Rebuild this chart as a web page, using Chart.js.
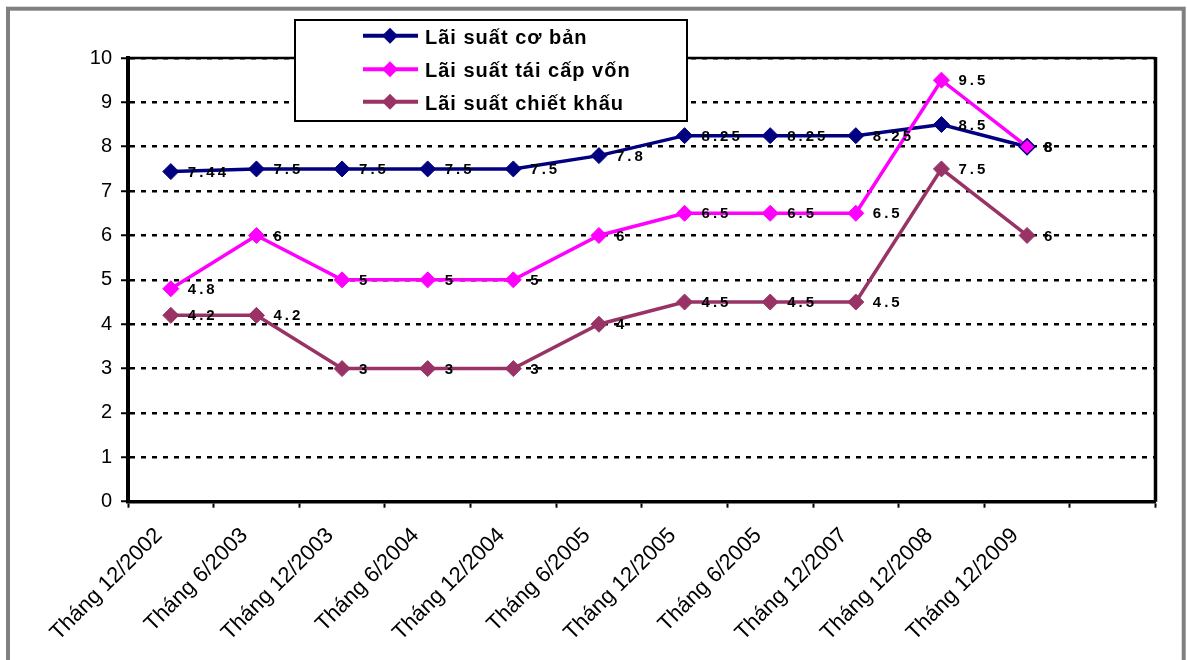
<!DOCTYPE html>
<html>
<head>
<meta charset="utf-8">
<title>Lãi suất</title>
<script src="https://cdn.jsdelivr.net/npm/chart.js@4.4.1/dist/chart.umd.min.js"></script>
<style>
  html, body { margin: 0; padding: 0; background: #fff; }
  #wrap { width: 1187px; height: 660px; position: relative; }
</style>
</head>
<body>
<div id="wrap"><canvas id="c" width="1187" height="660"></canvas></div>
<script>
// Kỳ điều chỉnh (the last slot is left empty, as on the axis)
const periods = [
  'Tháng 12/2002', 'Tháng 6/2003', 'Tháng 12/2003', 'Tháng 6/2004',
  'Tháng 12/2004', 'Tháng 6/2005', 'Tháng 12/2005', 'Tháng 6/2005',
  'Tháng 12/2007', 'Tháng 12/2008', 'Tháng 12/2009', ''
];
const seriesNames = ['Lãi suất cơ bản', 'Lãi suất tái cấp vốn', 'Lãi suất chiết khấu'];
const baseRate        = [7.44, 7.5, 7.5, 7.5, 7.5, 7.8, 8.25, 8.25, 8.25, 8.5, 8, null];
const refinancingRate = [4.8, 6, 5, 5, 5, 6, 6.5, 6.5, 6.5, 9.5, 8, null];
const discountRate    = [4.2, 4.2, 3, 3, 3, 4, 4.5, 4.5, 4.5, 7.5, 6, null];
const yMin = 0, yMax = 10, yStep = 1;

const NAVY = '#000080', MAGENTA = '#FF00FF', PLUM = '#993366';
const FONT = "'Liberation Sans', Arial, sans-serif";

// white page with a grey frame
const framePlugin = {
  id: 'frame',
  beforeDraw(chart) {
    const ctx = chart.ctx;
    ctx.save();
    ctx.fillStyle = '#fff';
    ctx.fillRect(0, 0, chart.width, chart.height);
    ctx.strokeStyle = '#808080';
    ctx.lineWidth = 4;
    ctx.strokeRect(8, 8.7, 1175.7, 700);
    ctx.restore();
  }
};

// top and right edges of the plot area
const plotBorderPlugin = {
  id: 'plotBorder',
  afterDatasetsDraw(chart) {
    const {ctx, chartArea: a} = chart;
    ctx.save();
    ctx.strokeStyle = '#000';
    ctx.lineWidth = 2.5;
    ctx.beginPath();
    ctx.moveTo(a.left, a.top);
    ctx.lineTo(a.right, a.top);
    ctx.stroke();
    ctx.lineWidth = 3.5;
    ctx.beginPath();
    ctx.moveTo(a.right, a.top - 1);
    ctx.lineTo(a.right, a.bottom);
    ctx.stroke();
    ctx.restore();
  }
};

// value written to the right of each marker
const valueLabelPlugin = {
  id: 'valueLabels',
  afterDatasetsDraw(chart) {
    const ctx = chart.ctx;
    ctx.save();
    ctx.font = 'bold 15px ' + FONT;
    ctx.letterSpacing = '3px';
    ctx.fillStyle = '#000';
    ctx.textAlign = 'left';
    ctx.textBaseline = 'middle';
    chart.data.datasets.forEach((ds, di) => {
      const meta = chart.getDatasetMeta(di);
      meta.data.forEach((pt, i) => {
        const v = ds.data[i];
        if (v === null || v === undefined) return;
        ctx.fillText(String(v), pt.x + 17, pt.y + 1);
      });
    });
    ctx.restore();
  }
};

// framed legend box with line + diamond samples
const legendBoxPlugin = {
  id: 'legendBox',
  afterDraw(chart) {
    const ctx = chart.ctx;
    const box = {x: 295, y: 20, w: 392, h: 101};
    ctx.save();
    ctx.fillStyle = '#fff';
    ctx.fillRect(box.x, box.y, box.w, box.h);
    ctx.strokeStyle = '#000';
    ctx.lineWidth = 2;
    ctx.strokeRect(box.x, box.y, box.w, box.h);
    const rows = [35.7, 69.3, 101.7];
    chart.data.datasets.forEach((ds, i) => {
      const y = rows[i];
      ctx.strokeStyle = ds.borderColor;
      ctx.lineWidth = 4;
      ctx.beginPath();
      ctx.moveTo(363, y);
      ctx.lineTo(418, y);
      ctx.stroke();
      const r = 8;
      ctx.fillStyle = ds.borderColor;
      ctx.beginPath();
      ctx.moveTo(390, y - r);
      ctx.lineTo(390 + r, y);
      ctx.lineTo(390, y + r);
      ctx.lineTo(390 - r, y);
      ctx.closePath();
      ctx.fill();
      ctx.fillStyle = '#000';
      ctx.font = 'bold 20px ' + FONT;
      ctx.letterSpacing = '1px';
      ctx.textAlign = 'left';
      ctx.textBaseline = 'alphabetic';
      ctx.fillText(ds.label, 425, y + 8);
    });
    ctx.restore();
  }
};

function lineSet(label, data, color, order) {
  return {
    label, data, order,
    borderColor: color,
    backgroundColor: color,
    borderWidth: 3.5,
    pointStyle: 'rectRot',
    pointRadius: 8,
    pointHoverRadius: 8,
    pointBackgroundColor: color,
    pointBorderColor: color,
    pointBorderWidth: 1,
    tension: 0,
    spanGaps: false
  };
}

const datasets = [
  lineSet(seriesNames[0], baseRate, NAVY, 3),
  lineSet(seriesNames[1], refinancingRate, MAGENTA, 2),
  lineSet(seriesNames[2], discountRate, PLUM, 1)
];
// the last refinancing marker sits on the base-rate marker and keeps its outline
datasets[1].pointBorderColor = ctx => ctx.dataIndex === refinancingRate.length - 2 ? NAVY : MAGENTA;
datasets[1].pointBorderWidth = ctx => ctx.dataIndex === refinancingRate.length - 2 ? 1.5 : 1;

new Chart(document.getElementById('c'), {
  type: 'line',
  data: { labels: periods, datasets },
  options: {
    responsive: false,
    animation: false,
    events: [],
    layout: { padding: { top: 58, right: 31.5, bottom: 0, left: 0 } },
    plugins: {
      legend: { display: false },
      tooltip: { enabled: false },
      title: { display: false }
    },
    scales: {
      x: {
        type: 'category',
        offset: true,
        grid: {
          display: true,
          offset: true,
          drawOnChartArea: false,
          drawTicks: true,
          tickLength: 6,
          tickWidth: 2,
          tickColor: '#000'
        },
        border: { display: true, color: '#000', width: 3.5 },
        ticks: {
          autoSkip: false,
          minRotation: 45,
          maxRotation: 45,
          padding: 15,
          labelOffset: -12,
          color: '#000',
          font: { family: FONT, size: 22 }
        },
        afterFit(scale) { scale.height = 158.3; }
      },
      y: {
        min: yMin,
        max: yMax,
        grid: {
          color: '#000',
          lineWidth: 2.5,
          drawTicks: true,
          tickLength: 7,
          tickWidth: 2,
          tickColor: '#000',
          tickBorderDash: []
        },
        border: { display: true, color: '#000', width: 4, dash: [5, 6] },
        ticks: {
          stepSize: yStep,
          padding: 9,
          color: '#000',
          font: { family: FONT, size: 20 }
        },
        afterFit(scale) { scale.width = 128; }
      }
    }
  },
  plugins: [framePlugin, plotBorderPlugin, valueLabelPlugin, legendBoxPlugin]
});
</script>
</body>
</html>
